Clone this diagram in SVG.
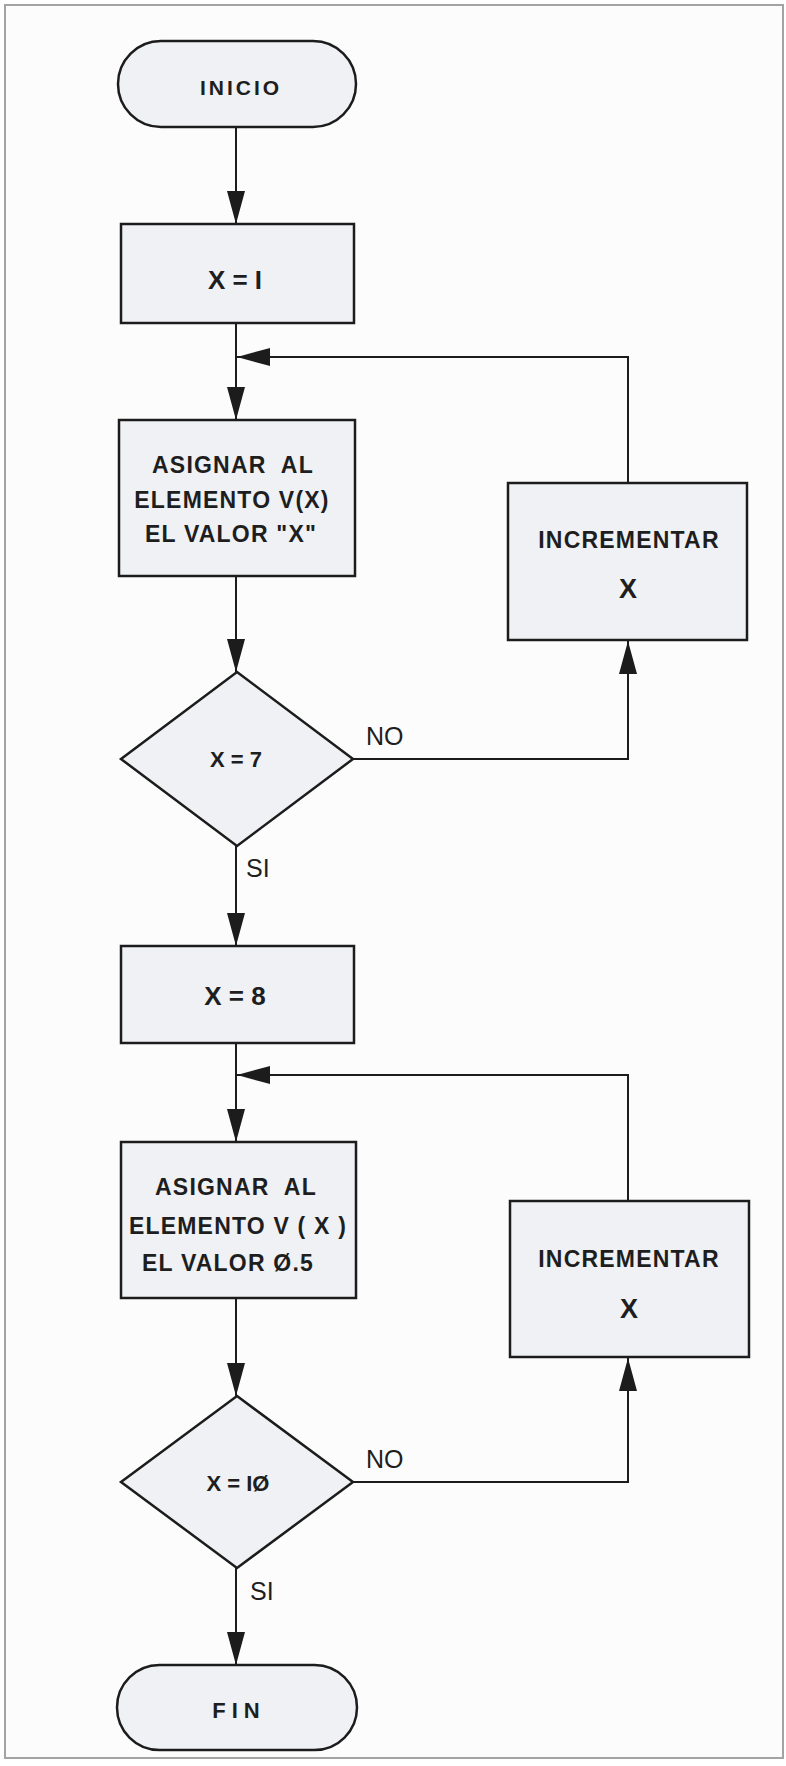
<svg xmlns="http://www.w3.org/2000/svg" width="786" height="1766" viewBox="0 0 786 1766">
<style>
.shape{fill:#eff1f4;stroke:#1c1c1c;stroke-width:2.5}
.conn{fill:none;stroke:#1c1c1c;stroke-width:2}
.t{font-family:"Liberation Sans",Arial,sans-serif;font-weight:bold;fill:#1e1e1e;text-anchor:middle}
.box{font-size:23px;letter-spacing:1.2px}
.eq{font-size:26px}
.dec{font-size:22px}
.lbl{font-family:"Liberation Sans",Arial,sans-serif;font-size:25px;fill:#1e1e1e}
</style>
<defs>
<marker id="ah" markerWidth="33" markerHeight="18" refX="33" refY="9" orient="auto" markerUnits="userSpaceOnUse">
<path d="M0,0 L33,9 L0,18 z" fill="#1c1c1c"/>
</marker>
</defs>
<rect x="0" y="0" width="786" height="1766" fill="#ffffff"/>
<rect x="5" y="5" width="778" height="1753" fill="#fcfcfc" stroke="#a3a3a3" stroke-width="2"/>

<g id="connectors">
<path class="conn" d="M236,127 V224" marker-end="url(#ah)"/>
<path class="conn" d="M236,323 V420" marker-end="url(#ah)"/>
<path class="conn" d="M628,483 V357 H237" marker-end="url(#ah)"/>
<path class="conn" d="M236,576 V672" marker-end="url(#ah)"/>
<path class="conn" d="M353,759 H628 V641" marker-end="url(#ah)"/>
<path class="conn" d="M236,846 V946" marker-end="url(#ah)"/>
<path class="conn" d="M236,1043 V1142" marker-end="url(#ah)"/>
<path class="conn" d="M628,1201 V1075 H237" marker-end="url(#ah)"/>
<path class="conn" d="M236,1298 V1396" marker-end="url(#ah)"/>
<path class="conn" d="M353,1482 H628 V1358" marker-end="url(#ah)"/>
<path class="conn" d="M236,1568 V1665" marker-end="url(#ah)"/>
</g>

<g id="inicio">
<rect class="shape" x="118" y="41" width="238" height="86" rx="43" ry="43"/>
<text class="t" x="241" y="95" font-size="21" letter-spacing="3">INICIO</text>
</g>

<g id="x1">
<rect class="shape" x="121" y="224" width="233" height="99"/>
<text class="t eq" x="235" y="289">X = I</text>
</g>

<g id="asignar1">
<rect class="shape" x="119" y="420" width="236" height="156"/>
<text class="t box" x="233" y="473" xml:space="preserve">ASIGNAR  AL</text>
<text class="t box" x="232" y="508">ELEMENTO V(X)</text>
<text class="t box" x="231" y="542">EL VALOR "X"</text>
</g>

<g id="incrementar1">
<rect class="shape" x="508" y="483" width="239" height="157"/>
<text class="t box" x="629" y="548">INCREMENTAR</text>
<text class="t" x="628" y="598" font-size="27">X</text>
</g>

<g id="decision1">
<polygon class="shape" points="237,672 353,759 237,846 121,759"/>
<text class="t dec" x="236" y="767">X = 7</text>
</g>
<text class="lbl" x="366" y="745">NO</text>
<text class="lbl" x="246" y="877">SI</text>

<g id="x8">
<rect class="shape" x="121" y="946" width="233" height="97"/>
<text class="t eq" x="235" y="1005">X = 8</text>
</g>

<g id="asignar2">
<rect class="shape" x="121" y="1142" width="235" height="156"/>
<text class="t box" x="236" y="1195" xml:space="preserve">ASIGNAR  AL</text>
<text class="t box" x="238" y="1234">ELEMENTO V ( X )</text>
<text class="t box" x="228" y="1271">EL VALOR Ø.5</text>
</g>

<g id="incrementar2">
<rect class="shape" x="510" y="1201" width="239" height="156"/>
<text class="t box" x="629" y="1267">INCREMENTAR</text>
<text class="t" x="629" y="1318" font-size="27">X</text>
</g>

<g id="decision2">
<polygon class="shape" points="237,1396 353,1482 237,1568 121,1482"/>
<text class="t dec" x="238" y="1491">X = IØ</text>
</g>
<text class="lbl" x="366" y="1468">NO</text>
<text class="lbl" x="250" y="1600">SI</text>

<g id="fin">
<rect class="shape" x="117" y="1665" width="240" height="85" rx="42.5" ry="42.5"/>
<text class="t" x="239" y="1718" font-size="22" letter-spacing="6">FIN</text>
</g>
</svg>
